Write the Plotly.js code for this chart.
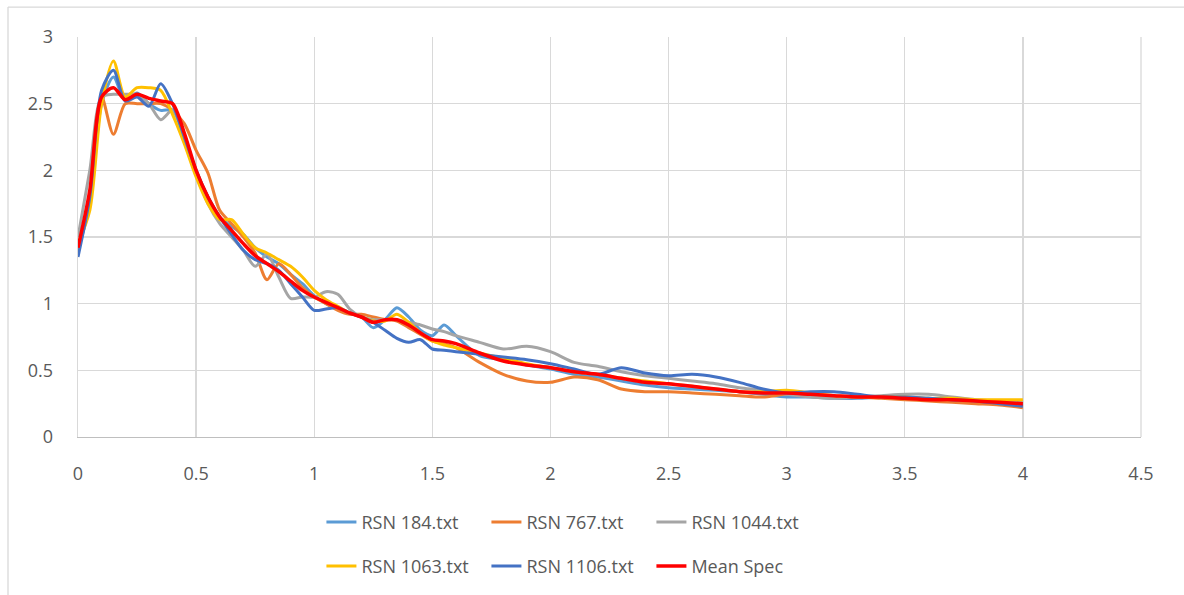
<!DOCTYPE html>
<html>
<head>
<meta charset="utf-8">
<script src="https://cdn.plot.ly/plotly-3.0.1.min.js"></script>
<style>html,body{margin:0;padding:0;background:#fff;}#chart{width:1184px;height:595px;}</style>
</head>
<body>
<div id="chart"></div>
<script>
const periods = [0, 0.05, 0.1, 0.15, 0.2, 0.25, 0.3, 0.35, 0.4, 0.45, 0.5, 0.55, 0.6, 0.65, 0.7, 0.75, 0.8, 0.85, 0.9, 0.95, 1.0, 1.05, 1.1, 1.15, 1.2, 1.25, 1.3, 1.35, 1.4, 1.45, 1.5, 1.55, 1.6, 1.7, 1.8, 1.9, 2.0, 2.1, 2.2, 2.3, 2.4, 2.5, 2.6, 2.7, 2.8, 2.9, 3.0, 3.1, 3.2, 3.3, 3.4, 3.5, 3.6, 3.7, 3.8, 3.9, 4.0];

const rsn184 = [1.40, 1.75, 2.50, 2.70, 2.52, 2.58, 2.50, 2.45, 2.45, 2.25, 2.00, 1.80, 1.65, 1.58, 1.52, 1.42, 1.35, 1.30, 1.22, 1.15, 1.06, 1.00, 0.96, 0.93, 0.90, 0.82, 0.88, 0.97, 0.90, 0.80, 0.76, 0.84, 0.76, 0.61, 0.58, 0.54, 0.51, 0.47, 0.45, 0.42, 0.39, 0.37, 0.36, 0.35, 0.34, 0.32, 0.30, 0.30, 0.29, 0.29, 0.30, 0.30, 0.29, 0.28, 0.27, 0.26, 0.24];
const rsn767 = [1.40, 1.80, 2.55, 2.27, 2.50, 2.50, 2.50, 2.50, 2.45, 2.35, 2.15, 1.98, 1.70, 1.60, 1.50, 1.38, 1.18, 1.30, 1.22, 1.12, 1.05, 1.00, 0.95, 0.92, 0.92, 0.90, 0.88, 0.87, 0.82, 0.77, 0.72, 0.70, 0.67, 0.56, 0.47, 0.42, 0.41, 0.45, 0.43, 0.36, 0.34, 0.34, 0.33, 0.32, 0.31, 0.30, 0.32, 0.31, 0.30, 0.30, 0.29, 0.28, 0.27, 0.26, 0.25, 0.24, 0.22];
const rsn1044 = [1.50, 2.00, 2.55, 2.57, 2.57, 2.57, 2.50, 2.38, 2.45, 2.25, 1.98, 1.75, 1.60, 1.50, 1.40, 1.28, 1.37, 1.20, 1.04, 1.05, 1.05, 1.09, 1.07, 0.96, 0.90, 0.88, 0.88, 0.88, 0.86, 0.84, 0.81, 0.79, 0.76, 0.71, 0.66, 0.68, 0.64, 0.56, 0.53, 0.49, 0.46, 0.44, 0.42, 0.40, 0.37, 0.35, 0.32, 0.30, 0.29, 0.30, 0.31, 0.32, 0.32, 0.30, 0.28, 0.27, 0.27];
const rsn1063 = [1.45, 1.70, 2.50, 2.82, 2.55, 2.62, 2.62, 2.60, 2.42, 2.20, 1.95, 1.75, 1.63, 1.63, 1.52, 1.42, 1.38, 1.33, 1.28, 1.20, 1.10, 1.03, 0.98, 0.93, 0.90, 0.87, 0.87, 0.92, 0.86, 0.78, 0.72, 0.69, 0.67, 0.63, 0.59, 0.55, 0.52, 0.49, 0.47, 0.44, 0.42, 0.40, 0.38, 0.36, 0.34, 0.34, 0.35, 0.33, 0.31, 0.30, 0.30, 0.30, 0.29, 0.29, 0.28, 0.28, 0.28];
const rsn1106 = [1.35, 1.80, 2.60, 2.75, 2.52, 2.55, 2.48, 2.65, 2.50, 2.25, 2.00, 1.80, 1.65, 1.52, 1.40, 1.33, 1.30, 1.25, 1.15, 1.05, 0.95, 0.96, 0.97, 0.93, 0.90, 0.86, 0.80, 0.74, 0.71, 0.73, 0.66, 0.65, 0.64, 0.62, 0.60, 0.58, 0.55, 0.51, 0.47, 0.52, 0.48, 0.46, 0.47, 0.45, 0.41, 0.36, 0.33, 0.34, 0.34, 0.32, 0.30, 0.30, 0.29, 0.28, 0.27, 0.25, 0.23];
const meanSpec = [1.42, 1.85, 2.55, 2.62, 2.53, 2.57, 2.54, 2.52, 2.50, 2.28, 2.00, 1.80, 1.65, 1.55, 1.45, 1.36, 1.30, 1.24, 1.17, 1.10, 1.05, 1.01, 0.97, 0.93, 0.90, 0.86, 0.88, 0.88, 0.84, 0.78, 0.73, 0.72, 0.70, 0.63, 0.57, 0.54, 0.52, 0.49, 0.47, 0.44, 0.41, 0.40, 0.38, 0.36, 0.34, 0.33, 0.33, 0.32, 0.31, 0.30, 0.30, 0.29, 0.28, 0.28, 0.27, 0.26, 0.25];

const seriesNames = ["RSN 184.txt", "RSN 767.txt", "RSN 1044.txt", "RSN 1063.txt", "RSN 1106.txt", "Mean Spec"];
const seriesValues = [rsn184, rsn767, rsn1044, rsn1063, rsn1106, meanSpec];
const seriesColors = ["#5B9BD5", "#ED7D31", "#A5A5A5", "#FFC000", "#4472C4", "#FF0000"];
const seriesWidths = [3, 3, 3, 3, 3, 3.5];
const xTicks = [0, 0.5, 1, 1.5, 2, 2.5, 3, 3.5, 4, 4.5];
const yTicks = [0, 0.5, 1, 1.5, 2, 2.5, 3];

const traces = seriesNames.map((name, i) => ({
  type: "scatter",
  mode: "lines",
  name: name,
  x: periods,
  y: seriesValues[i],
  line: {color: seriesColors[i], width: seriesWidths[i], shape: "spline", smoothing: 0.8},
  legend: i < 3 ? "legend" : "legend2",
  hoverinfo: "skip"
}));

const font = {family: "Open Sans, Liberation Sans, sans-serif", size: 18, color: "#595959"};
const legendCommon = {
  orientation: "h",
  xanchor: "left",
  yanchor: "middle",
  x: 0.229,
  entrywidth: 120,
  entrywidthmode: "pixels",
  font: font,
  bgcolor: "rgba(0,0,0,0)",
  itemclick: false
};

const layout = {
  width: 1184,
  height: 595,
  margin: {l: 78, r: 43, t: 37, b: 157},
  paper_bgcolor: "#ffffff",
  plot_bgcolor: "#ffffff",
  font: font,
  showlegend: true,
  legend: Object.assign({}, legendCommon, {y: -0.21}),
  legend2: Object.assign({}, legendCommon, {y: -0.32}),
  xaxis: {
    range: [0, 4.5],
    tickvals: xTicks,
    ticktext: xTicks.map(String),
    showgrid: true,
    gridcolor: "#D9D9D9",
    gridwidth: 1.3,
    zeroline: false,
    showline: true,
    linecolor: "#BFBFBF",
    linewidth: 1.3,
    ticks: "",
    ticklabelstandoff: 20,
    tickfont: font,
    fixedrange: true
  },
  yaxis: {
    range: [0, 3],
    tickvals: yTicks,
    ticktext: yTicks.map(String),
    showgrid: true,
    gridcolor: "#D9D9D9",
    gridwidth: 1.3,
    zeroline: false,
    showline: true,
    linecolor: "#D9D9D9",
    linewidth: 1.3,
    mirror: false,
    ticks: "",
    ticklabelstandoff: 20,
    tickfont: font,
    fixedrange: true
  },
  shapes: [
    {type: "line", xref: "paper", yref: "paper", x0: -70/1063, x1: 1.2, y0: 1 + 30/401, y1: 1 + 30/401, line: {color: "#D9D9D9", width: 1.3}},
    {type: "line", xref: "paper", yref: "paper", x0: -70/1063, x1: -70/1063, y0: 1 + 30/401, y1: -0.5, line: {color: "#D9D9D9", width: 1.3}},
    {type: "line", xref: "paper", yref: "paper", x0: 1, x1: 1, y0: 0, y1: 1, line: {color: "#D9D9D9", width: 1.3}}
  ]
};

Plotly.newPlot("chart", traces, layout, {displayModeBar: false, staticPlot: true});
</script>
</body>
</html>
